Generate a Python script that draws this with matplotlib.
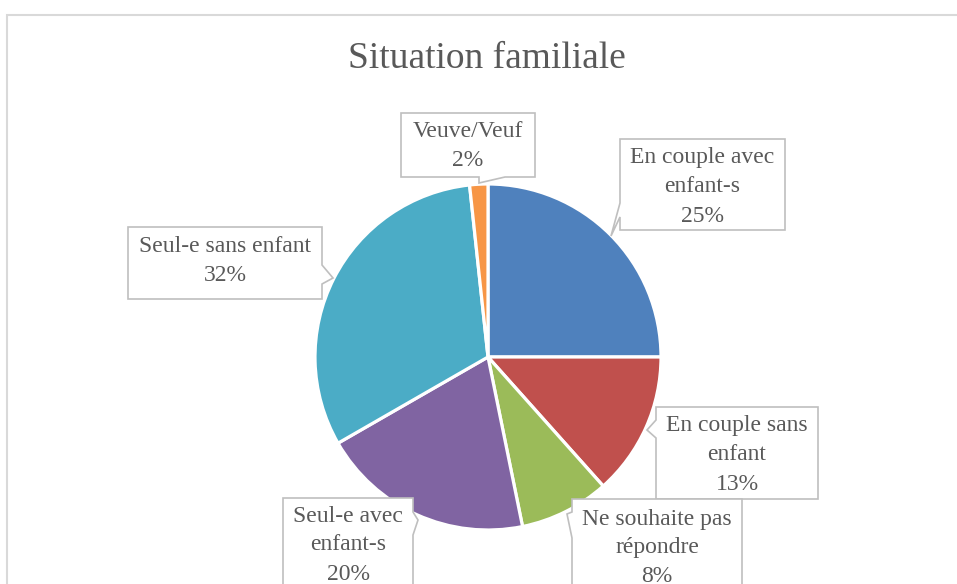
import matplotlib
matplotlib.use("Agg")
import matplotlib.pyplot as plt
from matplotlib.patches import Polygon, Rectangle

# ---- data ----
title = "Situation familiale"
categories = ["En couple avec\nenfant-s", "En couple sans\nenfant", "Ne souhaite pas\nrépondre",
              "Seul-e avec\nenfant-s", "Seul-e sans enfant", "Veuve/Veuf"]
values = [25.0, 13.4, 8.4, 19.9, 31.6, 1.7]
colors = ["#4F81BD", "#C0504D", "#9BBB59", "#8064A2", "#4BACC6", "#F79646"]

W, H = 957, 584
fig = plt.figure(figsize=(W / 100, H / 100), dpi=100)
plt.rcParams['font.family'] = ['Liberation Serif', 'DejaVu Serif']

def fx(x):
    return x / W

def fy(y):
    return 1 - y / H

def pts(lst):
    return [(fx(x), fy(y)) for x, y in lst]

# chart area border (cropped at right / bottom)
fig.add_artist(Rectangle((fx(7), fy(600)), fx(1000) - fx(7), fy(15) - fy(600),
                         transform=fig.transFigure, fill=False,
                         edgecolor="#D9D9D9", linewidth=1.5))

fig.text(fx(487), fy(59), title, ha="center", va="center", fontsize=27, color="#595959")

# pie
cx, cy, R = 488, 357, 173
ax = fig.add_axes([fx(cx - R), fy(cy + R), 2 * R / W, 2 * R / H])
ax.pie(values, colors=colors, startangle=90, counterclock=False, radius=1,
       wedgeprops=dict(edgecolor="white", linewidth=2.3))
ax.set_xlim(-1.0, 1.0)
ax.set_ylim(-1.0, 1.0)
ax.set_aspect("auto")
ax.axis("off")

# callout boxes (layout in pixel coordinates)
boxes = [
    [(620, 139), (785, 139), (785, 230), (620, 230), (620, 217), (611, 236), (620, 203)],
    [(656, 407), (818, 407), (818, 499), (656, 499), (656, 438), (647, 430), (656, 420)],
    [(572, 499), (742, 499), (742, 600), (572, 600), (572, 538), (567, 514), (572, 512)],
    [(283, 498), (413, 498), (413, 512), (418, 520), (413, 535), (413, 600), (283, 600)],
    [(128, 227), (322, 227), (322, 265), (333, 278), (322, 284), (322, 299), (128, 299)],
    [(401, 113), (535, 113), (535, 177), (505, 177), (479, 183), (479, 177), (401, 177)],
]
text_pos = [(702, 187), (737, 455), (657, 548), (348, 545), (225, 261), (468, 146)]

for poly, (tx, ty), cat, v in zip(boxes, text_pos, categories, values):
    fig.add_artist(Polygon(pts(poly), closed=True, transform=fig.transFigure,
                           facecolor="white", edgecolor="#BFBFBF", linewidth=1.2))
    fig.text(fx(tx), fy(ty), f"{cat}\n{round(v)}%", ha="center", va="center",
             fontsize=17, color="#595959", linespacing=1.5)

fig.savefig("out.png", dpi=100)
